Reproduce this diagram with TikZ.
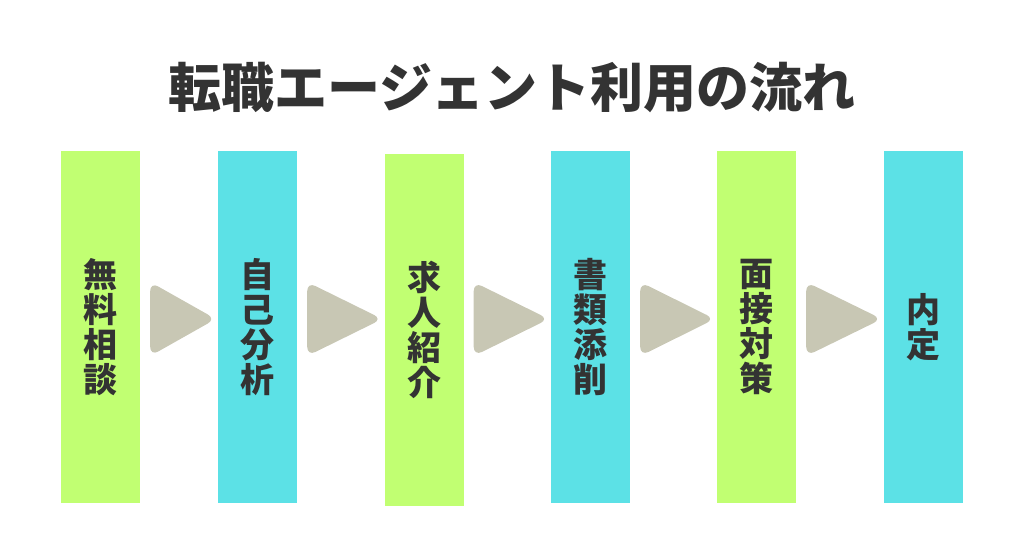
\documentclass[tikz,border=0pt]{standalone}
\usepackage{fontspec}
\usepackage{xcolor}
\usepackage{tikz}
\usetikzlibrary{calc}
\newfontfamily\jpfont{Noto Sans CJK JP}
\definecolor{stepgreen}{HTML}{C1FF72}
\definecolor{stepcyan}{HTML}{5CE1E6}
\definecolor{arrgray}{HTML}{C8C7B4}
\definecolor{inkgray}{HTML}{333333}
\tikzset{
  x=1pt, y=1pt,
  stepbox/.style ={rectangle, inner sep=0pt, minimum width=79pt,
                   minimum height=352pt, align=center, text=inkgray,
                   font=\jpfont\bfseries\fontsize{34}{35}\selectfont},
  stepg/.style   ={stepbox, fill=stepgreen},
  stepc/.style   ={stepbox, fill=stepcyan},
  arr/.style     ={fill=arrgray, rounded corners=9pt},
  ttl/.style     ={inner sep=0pt, text=inkgray,
                   font=\jpfont\bfseries\fontsize{53}{60}\selectfont},
}
\begin{document}
\begin{tikzpicture}
\useasboundingbox (0,0) rectangle (1024,537);
\node[ttl] (title) at (512,449) {転職エージェント利用の流れ};
\node[stepg] (s1) at (100.5,210) {無\\料\\相\\談};
\node[stepc] (s2) at (257.5,210) {自\\己\\分\\析};
\node[stepg] (s3) at (424,207)   {求\\人\\紹\\介};
\node[stepc] (s4) at (590.5,210) {書\\類\\添\\削};
\node[stepg] (s5) at (756.5,210) {面\\接\\対\\策};
\node[stepc] (s6) at (923.5,210) {内\\定};
\coordinate (axis) at (0,218);
\fill[arr] ($(s1.east |- axis)+(10,37)$) -- ($(s1.east |- axis)+(10,-37)$) -- ($(s2.west |- axis)+(-2,0)$) -- cycle;
\fill[arr] ($(s2.east |- axis)+(10,37)$) -- ($(s2.east |- axis)+(10,-37)$) -- ($(s3.west |- axis)+(-2,0)$) -- cycle;
\fill[arr] ($(s3.east |- axis)+(10,37)$) -- ($(s3.east |- axis)+(10,-37)$) -- ($(s4.west |- axis)+(-2,0)$) -- cycle;
\fill[arr] ($(s4.east |- axis)+(10,37)$) -- ($(s4.east |- axis)+(10,-37)$) -- ($(s5.west |- axis)+(-2,0)$) -- cycle;
\fill[arr] ($(s5.east |- axis)+(10,37)$) -- ($(s5.east |- axis)+(10,-37)$) -- ($(s6.west |- axis)+(-2,0)$) -- cycle;
\end{tikzpicture}
\end{document}
